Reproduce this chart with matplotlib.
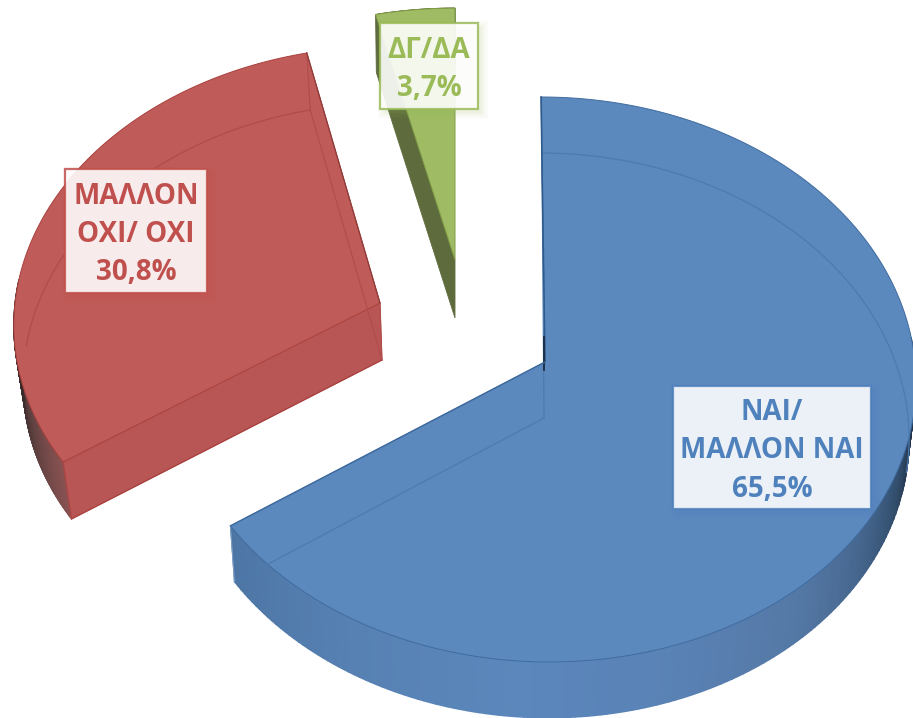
import numpy as np
import matplotlib
matplotlib.use("Agg")
import matplotlib.pyplot as plt
from matplotlib.patches import Polygon, Rectangle
from matplotlib.colors import LinearSegmentedColormap

# Data
labels = ["ΝΑΙ/\nΜΑΛΛΟΝ ΝΑΙ\n65,5%", "ΜΑΛΛΟΝ\nΟΧΙ/ ΟΧΙ\n30,8%", "ΔΓ/ΔΑ\n3,7%"]
values = [65.5, 30.8, 3.7]

# Styles
face_cols = ["#5B88BD", "#BF5B58", "#9FBB63"]
cut_cols = ["#4F78A8", "#B85555", "#5E6B3C"]
line_cols = ["#3F6B9F", "#A8403D", "#7F9C45"]
rim_cols = ["#4C7BB0", "#B04C49", "#8DA955"]
text_cols = ["#4F81BD", "#C0504D", "#9BBB59"]
geom = [
    dict(ax=545, ay=362, A=370, B=281.4, k=0.0619, sh=-0.015, s=0.984, dx=-1, dy=56),
    dict(ax=380, ay=303, A=365, B=272.8, k=0.0636, sh=0.024, s=0.98, dx=2, dy=57),
    dict(ax=455, ay=260, A=365, B=267.0, k=0.06, sh=0.0, s=0.99, dx=0, dy=58),
]
side_stops = [
    ([85, 100, 112, 125, 140, 165, 185, 210, 236],
     ["#1C2A38", "#22344A", "#34506F", "#46678F", "#5579A6", "#5A83B7", "#5B87BC", "#5781B3", "#4D76A5"]),
    ([236, 250, 262, 275], ["#8A5252", "#5E4040", "#3A2B2B", "#2E2424"]),
    ([347, 360], ["#5E6B3C", "#5E6B3C"]),
]
boxes = [(673, 386, 198, 123), (65, 169, 142, 124), (380, 23, 98, 86)]

fig = plt.figure(figsize=(9.13, 7.18), dpi=100)
ax = fig.add_axes([0, 0, 1, 1])
ax.set_xlim(0, 913)
ax.set_ylim(718, 0)
ax.axis("off")


def top_pt(g, th):
    t = np.radians(th)
    c, sn = np.cos(t), np.sin(t)
    den = 1 + g["k"] * c
    up = g["B"] * c / den
    return g["ax"] + g["A"] * sn / den + g["sh"] * up, g["ay"] - up


def low_pt(g, x, y):
    return g["ax"] + (np.asarray(x) - g["ax"]) * g["s"] + g["dx"], np.asarray(y) + g["dy"]


def arc(g, a, b, n=200):
    return top_pt(g, np.linspace(a, b, n))


shares = np.array(values) / np.sum(values) * 360
ends = np.cumsum(shares)
starts = ends - shares

for i in [2, 1, 0]:
    g = geom[i]
    a, b = starts[i], ends[i]
    apex = (g["ax"], g["ay"])
    lap = low_pt(g, *apex)
    # outer wall, smoothly shaded by angle
    xs, cs = side_stops[i]
    lo, hi = xs[0], xs[-1]
    th = np.linspace(max(a, lo), min(b, hi), 160)
    x, y = top_pt(g, th)
    xl, yl = low_pt(g, x, y)
    cmap = LinearSegmentedColormap.from_list(
        "side", [((v - lo) / (hi - lo), c) for v, c in zip(xs, cs)])
    ax.pcolormesh(np.vstack([x, xl]), np.vstack([y, yl]), np.vstack([th, th]),
                  shading="gouraud", cmap=cmap, vmin=lo, vmax=hi, zorder=1)
    # cut wall
    ex, ey = top_pt(g, a)
    xc, yc = low_pt(g, ex, ey)
    if i != 0:
        ax.add_patch(Polygon([(ex, ey), (xc, yc), lap, apex], closed=True,
                             fc=cut_cols[i], ec=cut_cols[i], lw=0.6, zorder=2))
    if i == 1:
        ax.plot([xc, lap[0]], [yc, lap[1]], color=line_cols[i], lw=0.9, zorder=4)
        ax.plot([ex, xc], [ey, yc], color=line_cols[i], lw=0.7, zorder=4)
    # top face
    x, y = arc(g, a, b)
    ax.add_patch(Polygon(np.c_[np.r_[apex[0], x], np.r_[apex[1], y]], closed=True,
                         fc=face_cols[i], ec=line_cols[i], lw=0.7, zorder=3))
    # lower rim seen through the glassy face
    if i == 0:
        cx, cy = top_pt(g, b)
        cxl, cyl = low_pt(g, cx, cy)
        xl, yl = low_pt(g, *arc(g, 0.6, 101))
        ax.plot(xl, yl, color=rim_cols[i], lw=0.9, zorder=4)
        x0, y0 = top_pt(g, 0)
        ax.plot([lap[0], x0 + 0.5], [lap[1], y0], color=rim_cols[i], lw=0.9, zorder=4)
        ax.plot([x0, apex[0]], [y0, apex[1]], color="#2F5A8C", lw=1.1, zorder=4)
        ax.plot([apex[0] - 1, apex[0] - 1], [apex[1] - 25, apex[1] + 8], color="#1A2C40", lw=1.3, zorder=4)
        ax.plot([lap[0], cxl], [lap[1], cyl], color=rim_cols[i], lw=0.9, zorder=4)
        ax.plot([cx, cxl], [cy, cyl], color="#7F9FC6", lw=0.7, zorder=4)
        ax.plot([cx, apex[0]], [cy, apex[1]], color="#3F6B9F", lw=1.0, zorder=4)
    elif i == 1:
        xl, yl = low_pt(g, *arc(g, 273, b))
        ax.plot(xl, yl, color=rim_cols[i], lw=0.9, zorder=4)
        ex, ey = top_pt(g, b)
        exl, eyl = low_pt(g, ex, ey)
        ax.plot([ex, exl], [ey, eyl], color=rim_cols[i], lw=0.8, zorder=4)
        ax.plot([exl, lap[0]], [eyl, lap[1]], color=rim_cols[i], lw=0.8, zorder=4)
        ax.plot([apex[0], lap[0]], [apex[1], lap[1]], color=rim_cols[i], lw=0.8, zorder=4)
        ax.plot([ex, apex[0]], [ey, apex[1]], color="#8E3B39", lw=0.9, zorder=4)

# labels
for lab, (x, y, w, h), tc in zip(labels, boxes, text_cols):
    for e, al in zip([6, 4, 2, 0], [0.03, 0.04, 0.05, 0.06]):
        ax.add_patch(Rectangle((x + 4 - e, y + 4 - e), w + 2 * e, h + 2 * e, fc=tc, ec="none", alpha=al, zorder=5))
    ax.add_patch(Rectangle((x, y), w, h, fc="white", ec="none", alpha=0.89, zorder=6))
    ax.add_patch(Rectangle((x, y), w, h, fc="none", ec=tc, lw=1.6, alpha=0.85, zorder=6))
    ax.text(x + w / 2, y + h / 2 + 3.5, lab, ha="center", va="center", color=tc, fontsize=20,
            fontweight="bold", family="Open Sans", linespacing=1.43, zorder=7)

fig.savefig("out.png", dpi=100)
